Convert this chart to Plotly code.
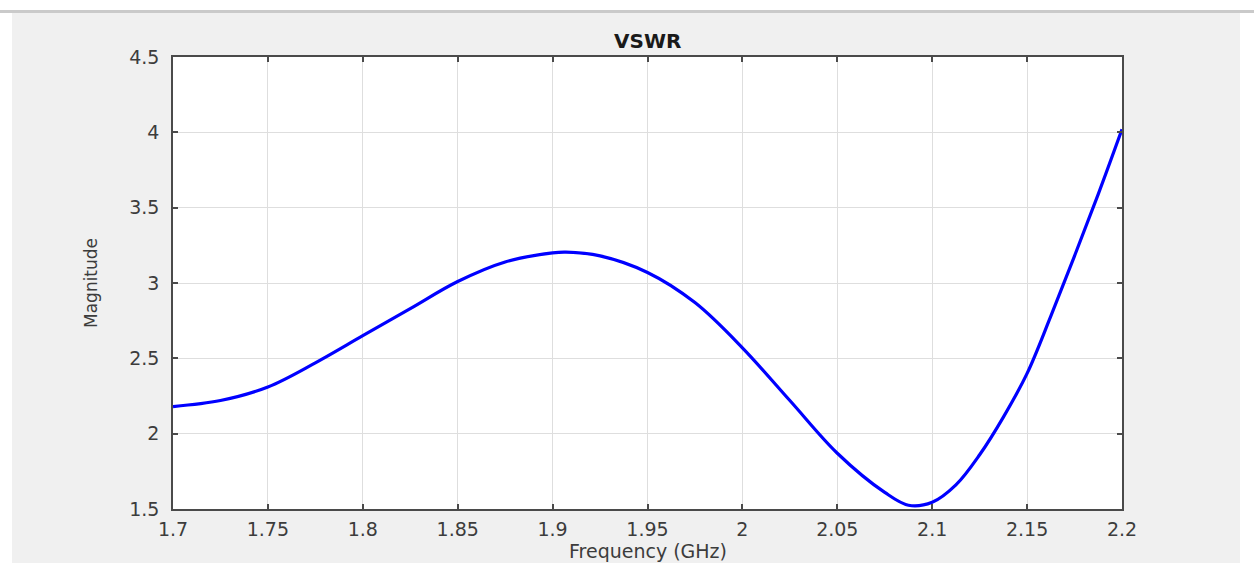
import plotly.graph_objects as go

# Data
freq_ghz = [1.700, 1.725, 1.750, 1.775, 1.800, 1.825, 1.850, 1.875, 1.900, 1.907,
            1.925, 1.950, 1.975, 2.000, 2.025, 2.050, 2.075, 2.0875, 2.100, 2.1125,
            2.125, 2.1375, 2.150, 2.1625, 2.175, 2.1875, 2.200]
vswr = [2.18, 2.22, 2.31, 2.47, 2.65, 2.83, 3.01, 3.14, 3.20, 3.205,
        3.18, 3.07, 2.87, 2.57, 2.22, 1.87, 1.61, 1.525, 1.545, 1.66,
        1.86, 2.11, 2.40, 2.78, 3.18, 3.59, 4.02]

x_tick_vals = [1.7, 1.75, 1.8, 1.85, 1.9, 1.95, 2.0, 2.05, 2.1, 2.15, 2.2]
x_tick_text = ["1.7", "1.75", "1.8", "1.85", "1.9", "1.95", "2", "2.05", "2.1", "2.15", "2.2"]
y_tick_vals = [1.5, 2, 2.5, 3, 3.5, 4, 4.5]
y_tick_text = ["1.5", "2", "2.5", "3", "3.5", "4", "4.5"]

FONT = "DejaVu Sans, Verdana, Arial, sans-serif"
AXC = "#4a4a4a"
TXT = "#3c3c3c"

fig = go.Figure()
fig.add_trace(go.Scatter(
    x=freq_ghz, y=vswr, mode="lines",
    line=dict(color="#0000ff", width=3.2, shape="spline", smoothing=1.0),
    showlegend=False, hoverinfo="x+y",
))

W, H = 1254, 563
L, R, T, B = 173, 1122, 57, 509
pw, ph = R - L, B - T

def px(xp):
    return (xp - L) / pw

def py(yp):
    return (B - yp) / ph

shapes = [
    # grey figure background
    dict(type="rect", xref="paper", yref="paper", layer="below",
         x0=px(12), x1=px(1240), y0=py(563), y1=py(13),
         fillcolor="#f0f0f0", line=dict(width=0)),
    # top shadow line
    dict(type="rect", xref="paper", yref="paper", layer="below",
         x0=px(0), x1=px(1254), y0=py(13), y1=py(10),
         fillcolor="#cacaca", line=dict(width=0)),
    # white plot area
    dict(type="rect", xref="paper", yref="paper", layer="below",
         x0=0, x1=1, y0=0, y1=1,
         fillcolor="#ffffff", line=dict(width=0)),
]

annotations = [
    dict(text="<b>VSWR</b>", xref="paper", yref="paper",
         x=0.5, y=py(41), xanchor="center", yanchor="middle",
         showarrow=False, font=dict(family=FONT, size=20, color="#1a1a1a")),
    dict(text="Frequency (GHz)", xref="paper", yref="paper",
         x=0.5, y=py(551), xanchor="center", yanchor="middle",
         showarrow=False, font=dict(family=FONT, size=19, color=TXT)),
    dict(text="Magnitude", xref="paper", yref="paper",
         x=px(91), y=py(283), xanchor="center", yanchor="middle", textangle=-90,
         showarrow=False, font=dict(family=FONT, size=17, color=TXT)),
]

fig.update_layout(
    width=W, height=H,
    margin=dict(l=L, r=W - R, t=T, b=H - B, pad=0),
    paper_bgcolor="#ffffff",
    plot_bgcolor="rgba(0,0,0,0)",
    shapes=shapes,
    annotations=annotations,
    font=dict(family=FONT, size=15, color=TXT),
)

fig.update_xaxes(
    range=[1.7, 2.2], tickvals=x_tick_vals, ticktext=x_tick_text,
    showgrid=True, gridcolor="#dedede", gridwidth=1,
    showline=True, linecolor=AXC, linewidth=1.5, mirror="allticks",
    ticks="inside", ticklen=5, tickcolor=AXC, tickwidth=1.5,
    zeroline=False, tickfont=dict(family=FONT, size=19, color=TXT),
    ticklabelstandoff=2,
)
fig.update_yaxes(
    range=[1.5, 4.5], tickvals=y_tick_vals, ticktext=y_tick_text,
    showgrid=True, gridcolor="#dedede", gridwidth=1,
    showline=True, linecolor=AXC, linewidth=1.5, mirror="allticks",
    ticks="inside", ticklen=5, tickcolor=AXC, tickwidth=1.5,
    zeroline=False, tickfont=dict(family=FONT, size=19, color=TXT),
    ticklabelstandoff=8,
)

fig.write_html("out.html")
